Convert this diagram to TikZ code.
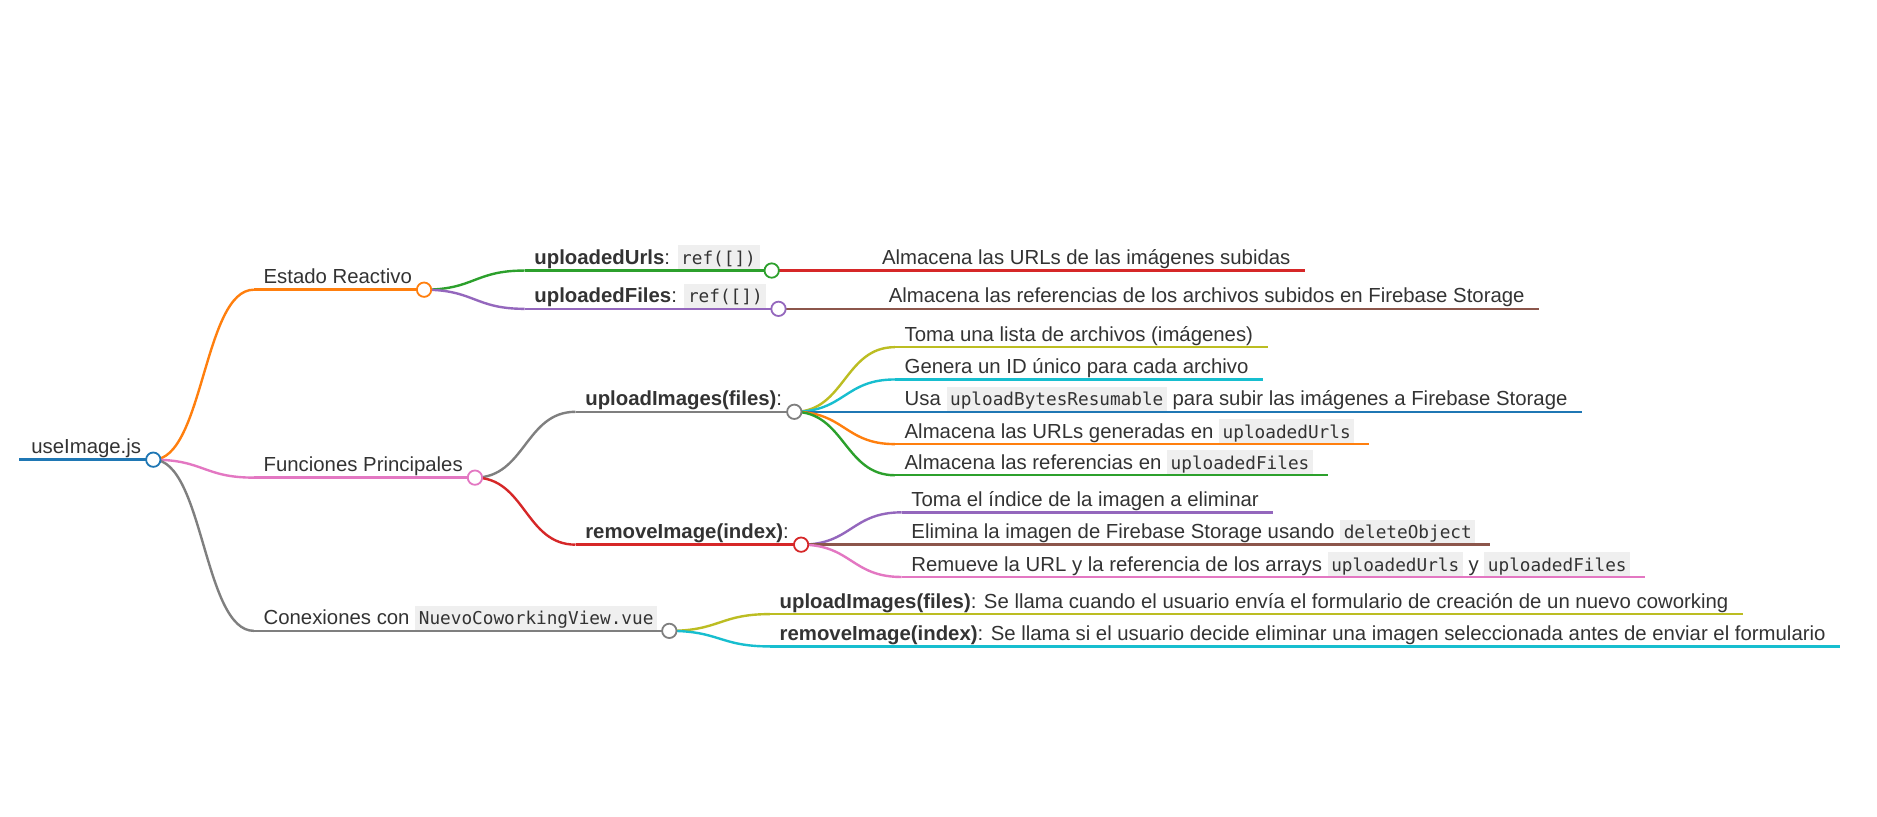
\documentclass[tikz,border=0pt]{standalone}
\usepackage{fontspec}
\setmainfont{Liberation Sans}
\newfontfamily\monofont{DejaVu Sans Mono}
\usetikzlibrary{calc}
\pgfdeclarelayer{back}
\pgfdeclarelayer{bg}
\pgfsetlayers{back,bg,main}
\definecolor{cblue}{HTML}{1F77B4}
\definecolor{corange}{HTML}{FF7F0E}
\definecolor{cgreen}{HTML}{2CA02C}
\definecolor{cred}{HTML}{D62728}
\definecolor{cpurple}{HTML}{9467BD}
\definecolor{cbrown}{HTML}{8C564B}
\definecolor{cpink}{HTML}{E377C2}
\definecolor{cgray}{HTML}{7F7F7F}
\definecolor{colive}{HTML}{BCBD22}
\definecolor{ccyan}{HTML}{17BECF}
\definecolor{codebg}{HTML}{EFEFEF}
\definecolor{codefg}{HTML}{333333}
\definecolor{txtfg}{HTML}{333333}
\newcommand\code[1]{{\setlength{\fboxsep}{0pt}\colorbox{codebg}{\rule[-4pt]{0pt}{20pt}\hspace{3pt}{\monofont\fontsize{14.8}{16}\selectfont\color{codefg}#1}\hspace{3pt}}}}
\tikzset{
  txt/.style={anchor=base west, inner sep=0pt, text=txtfg, font=\fontsize{17}{20}\selectfont},
  dot/.style={circle, draw=#1, fill=white, line width=1.5pt, minimum size=12pt, inner sep=0pt},
  br/.style={draw=#1, line width=2pt},
}
\newcommand\lnk[3]{\draw[br=#3] let \p1=(#1), \p2=(#2) in (#1) .. controls ({(\x1+\x2)/2},\y1) and ({(\x1+\x2)/2},\y2) .. (#2);}
\newcommand\innernode[5]{%
  \path let \p1=(#2) in coordinate (#1s) at (\x1+84pt,-#3pt);
  \node[txt] (#1t) at ([xshift=8pt,yshift=5pt]#1s) {#5};
  \path let \p1=(#1t.east), \p2=(#1s) in coordinate (#1c) at (\x1+10pt,\y2);
  \begin{pgfonlayer}{bg}\lnk{#2}{#1s}{#4}\draw[br=#4] (#1s) -- (#1c);\end{pgfonlayer}
  \node[dot=#4] (#1d) at (#1c) {};
}
\newcommand\leafnode[5]{%
  \path let \p1=(#2) in coordinate (#1s) at (\x1+84pt,-#3pt);
  \node[txt] (#1t) at ([xshift=8pt,yshift=5pt]#1s) {#5};
  \path let \p1=(#1t.east), \p2=(#1s) in coordinate (#1e) at (\x1+12pt,\y2);
  \begin{pgfonlayer}{bg}\lnk{#2}{#1s}{#4}\draw[br=#4] (#1s) -- (#1e);\end{pgfonlayer}
}
\begin{document}
\begin{tikzpicture}[x=1pt,y=1pt]
\begin{pgfonlayer}{back}
\fill[white] (0,0) rectangle (1568,-682.5);
\end{pgfonlayer}
\useasboundingbox (0,0) rectangle (1568,-682.5);
% root
\coordinate (r0) at (16,-384);
\node[txt] (rt) at (26,-379) {useImage.js};
\path let \p1=(rt.east) in coordinate (rc) at (\x1+10pt,-384pt);
\begin{pgfonlayer}{bg}\draw[br=cblue, line width=3pt] (r0) -- (rc);\end{pgfonlayer}
\node[dot=cblue] (rd) at (rc) {};
% level 1
\innernode{est}{rc}{242}{corange}{Estado Reactivo}
\innernode{fun}{rc}{399}{cpink}{Funciones Principales}
\innernode{con}{rc}{527}{cgray}{Conexiones con \code{NuevoCoworkingView.vue}}
% Estado Reactivo
\innernode{urls}{estc}{226}{cgreen}{{\bfseries uploadedUrls}: \code{ref([])}}
\innernode{files}{estc}{258}{cpurple}{{\bfseries uploadedFiles}: \code{ref([])}}
\leafnode{lurls}{urlsc}{226}{cred}{Almacena las URLs de las imágenes subidas}
\leafnode{lfiles}{filesc}{258}{cbrown}{Almacena las referencias de los archivos subidos en Firebase Storage}
% Funciones Principales
\innernode{up}{func}{344}{cgray}{{\bfseries uploadImages(files)}:}
\innernode{rm}{func}{455}{cred}{{\bfseries removeImage(index)}:}
\leafnode{upa}{upc}{290}{colive}{Toma una lista de archivos (imágenes)}
\leafnode{upb}{upc}{317}{ccyan}{Genera un ID único para cada archivo}
\leafnode{upc}{upc}{344}{cblue}{Usa \code{uploadBytesResumable} para subir las imágenes a Firebase Storage}
\leafnode{upd}{upc}{371}{corange}{Almacena las URLs generadas en \code{uploadedUrls}}
\leafnode{upe}{upc}{397}{cgreen}{Almacena las referencias en \code{uploadedFiles}}
\leafnode{rma}{rmc}{428}{cpurple}{Toma el índice de la imagen a eliminar}
\leafnode{rmb}{rmc}{455}{cbrown}{Elimina la imagen de Firebase Storage usando \code{deleteObject}}
\leafnode{rmd}{rmc}{482}{cpink}{Remueve la URL y la referencia de los arrays \code{uploadedUrls} y \code{uploadedFiles}}
% Conexiones
\leafnode{cona}{conc}{513}{colive}{{\bfseries uploadImages(files)}: Se llama cuando el usuario envía el formulario de creación de un nuevo coworking}
\leafnode{conb}{conc}{540}{ccyan}{{\bfseries removeImage(index)}: Se llama si el usuario decide eliminar una imagen seleccionada antes de enviar el formulario}
\end{tikzpicture}
\end{document}
